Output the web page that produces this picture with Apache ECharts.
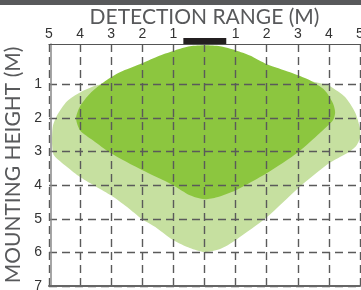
<!DOCTYPE html>
<html>
<head>
<meta charset="utf-8">
<script src="https://cdn.jsdelivr.net/npm/echarts@6/dist/echarts.min.js"></script>
<style>
  html, body { margin: 0; padding: 0; background: #fff; }
  #chart { width: 361px; height: 290px; }
</style>
</head>
<body>
<div id="chart"></div>
<script>
// 刻度
const yTicks = [1, 2, 3, 4, 5, 6, 7];

// 外圈（浅绿）轮廓: 横向距离 / 安装高度 (m)
const lightX = [0, 2.5, 3.9, 4.04, 4.52, 4.84, 5.0, 5.0, 4.87, 4.58, 4.0, 3.01, 2.01, 1.01, 0.5, 0,
    -0.47, -1.01, -1.53, -2.01, -2.49, -3.01, -3.46, -4.0, -4.42, -4.84, -4.9, -4.9, -4.87, -4.74, -4.42, -4.0, -3.46, -2.4];
const lightY = [0.7, 0.75, 1.0, 1.06, 1.38, 1.83, 2.31, 2.6, 2.84, 3.05, 3.35, 4.09, 4.95, 5.63, 5.9, 5.99,
    5.87, 5.63, 5.28, 5.01, 4.65, 4.3, 4.06, 3.76, 3.46, 3.11, 2.81, 2.51, 2.22, 1.92, 1.5, 1.24, 1.03, 0.85];

// 内圈（深绿）轮廓
const darkX = [0.02, 0.5, 1.01, 1.46, 2.01, 2.75, 3.39, 3.87, 4.13, 4.2, 4.13, 3.71, 3.01, 2.01, 1.01, 0.4, 0,
    -0.47, -1.01, -2.01, -3.01, -3.59, -4.0, -4.13, -4.0, -3.68, -3.2, -2.72, -2.01, -1.43, -0.95, -0.47];
const darkY = [-0.16, -0.13, -0.01, 0.14, 0.4, 0.64, 0.88, 1.18, 1.56, 1.83, 2.07, 2.45, 3.02, 3.64, 4.15, 4.36, 4.42,
    4.3, 4.0, 3.55, 3.05, 2.66, 2.37, 2.01, 1.65, 1.27, 0.91, 0.64, 0.37, 0.14, -0.01, -0.13];

// 感应器
const sensorX = [-0.68, 0.70];
const sensorY = [-0.38, -0.2];

const chart = echarts.init(document.getElementById('chart'));

const zoneSeries = (name, xs, ys, color) => ({
    type: 'custom',
    name: name,
    silent: true,
    z: 1,
    data: [[0, 0]],
    renderItem: (params, api) => ({
        type: 'polygon',
        shape: {
            points: xs.map((x, i) => api.coord([x, ys[i]])),
            smooth: 0.25
        },
        style: { fill: color }
    })
});

const gridLine = { type: [8, 5], color: '#5a5a5a', width: 1.4 };
const titleFont = { fontFamily: 'Lato', fontSize: 21, color: '#58595b' };

const option = {
    animation: false,
    grid: { left: 49, right: 1, top: 44, bottom: 4, outerBoundsMode: 'none', containLabel: false },
    graphic: [{
        type: 'rect',
        left: 0, top: 0,
        shape: { width: 361, height: 5 },
        style: { fill: '#58595b' }
    }, {
        // 顶部标题
        type: 'text',
        x: 204.5, y: 17,
        style: Object.assign({
            text: 'DETECTION RANGE (M)',
            align: 'center',
            verticalAlign: 'middle',
            fill: titleFont.color,
            font: '21px Lato'
        })
    }],
    xAxis: [{
        type: 'value',
        position: 'top',
        min: -5, max: 5, interval: 1,
        z: 5,
        axisLine: { onZero: false, lineStyle: { color: '#555', width: 1 } },
        axisTick: { show: false },
        axisLabel: {
            color: '#333', fontSize: 14, fontFamily: 'Liberation Sans', margin: 3,
            formatter: v => (v === 0 ? '' : String(Math.abs(v)))
        },
        splitLine: { show: true, lineStyle: gridLine }
    }, {
        type: 'value',
        position: 'bottom',
        min: -5, max: 5,
        z: 5,
        axisLine: { onZero: false, lineStyle: { color: '#666', width: 2 } },
        axisTick: { show: false },
        axisLabel: { show: false },
        splitLine: { show: false }
    }],
    yAxis: {
        type: 'value',
        inverse: true,
        min: -0.2, max: 7,
        offset: -2,
        z: 5,
        axisLine: { show: true, onZero: false, lineStyle: { color: '#888', width: 1.5 } },
        axisTick: { show: false, customValues: yTicks },
        axisLabel: { customValues: yTicks, color: '#333', fontSize: 14, fontFamily: 'Liberation Sans', margin: 9 },
        splitLine: { show: true, lineStyle: gridLine },
        name: 'MOUNTING HEIGHT (M)',
        nameLocation: 'middle',
        nameRotate: 90,
        nameGap: 25,
        nameTextStyle: titleFont
    },
    series: [
        zoneSeries('外圈', lightX, lightY, '#c6e0a0'),
        zoneSeries('内圈', darkX, darkY, '#8cc63f'),
        {
            type: 'custom',
            name: '感应器',
            silent: true,
            z: 6,
            data: [[0, 0]],
            renderItem: (params, api) => {
                const a = api.coord([sensorX[0], sensorY[0]]);
                const b = api.coord([sensorX[1], sensorY[1]]);
                return {
                    type: 'rect',
                    shape: { x: a[0], y: a[1], width: b[0] - a[0], height: b[1] - a[1] },
                    style: { fill: '#231f20' }
                };
            }
        }
    ]
};

chart.setOption(option);

window.addEventListener('resize', () => chart.resize());
</script>
</body>
</html>
